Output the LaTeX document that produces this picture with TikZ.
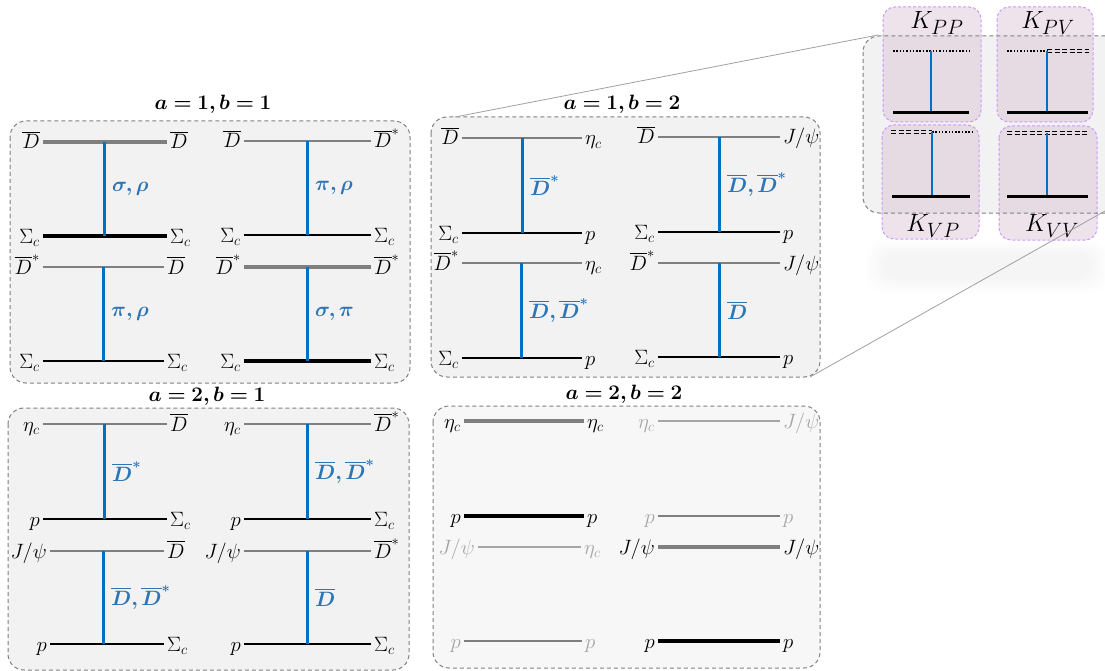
\documentclass[tikz,border=0pt]{standalone}
\usepackage{amsmath,bm}
\usetikzlibrary{calc}
\definecolor{boxfill}{HTML}{F2F2F2}
\definecolor{boxfillL}{HTML}{F7F7F7}
\definecolor{boxdraw}{HTML}{808080}
\definecolor{lineblue}{HTML}{0070C0}
\definecolor{labblue}{HTML}{2E75B6}
\definecolor{midgray}{HTML}{7F7F7F}
\definecolor{ltgray}{HTML}{A6A6A6}
\definecolor{purpdraw}{HTML}{CC99FF}
\definecolor{purpfill}{RGB}{216,185,206}
\definecolor{zoomgray}{HTML}{A0A0A0}
\newcommand\DDb{\overline{D}}
\newcommand\DDs{\overline{D}^{*}}
\tikzset{
 panel/.style={draw=boxdraw, fill=boxfill, dash pattern=on 4pt off 3pt, rounded corners=16pt, line width=1pt},
 thingray/.style={draw=midgray, line width=1.3pt},
 thickgray/.style={draw=midgray, line width=3.5pt},
 thinblack/.style={draw=black, line width=1.3pt},
 thickblack/.style={draw=black, line width=4pt},
 ltline/.style={draw=ltgray, line width=1.3pt},
 xch/.style={draw=lineblue, line width=3pt},
 lab/.style={font=\huge, inner sep=0pt},
 ll/.style={lab, text depth=0pt, anchor=base east, xshift=-3pt, yshift=-7pt},
 rl/.style={lab, text depth=0pt, anchor=base west, xshift=3pt, yshift=-7pt},
 xlab/.style={lab, anchor=west, xshift=8pt, text=labblue},
 ttl/.style={lab},
 lt/.style={text=ltgray},
 kbox/.style={draw=purpdraw, dash pattern=on 3pt off 2pt, fill=purpfill, fill opacity=0.4, rounded corners=12pt, line width=1pt},
 klab/.style={font=\Huge, inner sep=0pt},
 dotl/.style={draw=black, line width=1.5pt, dash pattern=on 1.5pt off 1.8pt},
 dbl/.style={draw=black, line width=0.9pt, dash pattern=on 5pt off 2.5pt},
 kbase/.style={draw=black, line width=3pt},
 zoomline/.style={draw=zoomgray, line width=0.8pt},
}
% #1 id, #2 xL, #3 xR, #4 yT, #5 yB, #6 xV, #7 top style, #8 bottom style, #9 exchange label
\newcommand\dg[9]{%
 \coordinate (#1tl) at (#2,#4); \coordinate (#1tr) at (#3,#4);
 \coordinate (#1bl) at (#2,#5); \coordinate (#1br) at (#3,#5);
 \coordinate (#1vt) at (#6,#4); \coordinate (#1vb) at (#6,#5);
 \draw[#7] (#1tl) -- (#1tr);
 \draw[#8] (#1bl) -- (#1br);
 \draw[xch] (#1vt) -- (#1vb);
 \node[xlab] (#1x) at ($(#1vt)!0.5!(#1vb)$) {$\bm{#9}$};
}
\newcommand\lb[5]{%
 \node[ll] (#1A) at (#1tl) {$#2$};
 \node[rl] (#1B) at (#1tr) {$#3$};
 \node[ll] (#1C) at (#1bl) {$#4$};
 \node[rl] (#1D) at (#1br) {$#5$};
}
\newcommand\dbline[2]{%
 \draw[dbl] ($(#1)+(0,-1.6)$) -- ($(#2)+(0,-1.6)$);
 \draw[dbl] ($(#1)+(0,1.6)$) -- ($(#2)+(0,1.6)$);
}
\begin{document}
\begin{tikzpicture}[x=1pt,y=-1pt]
\useasboundingbox (0,0) rectangle (1105,671);
\clip (0,0) rectangle (1105,671);

% ---------- panels ----------
\draw[panel] (10,121) rectangle (410,383);
\draw[panel] (431,117) rectangle (820,377);
\draw[panel] (8,408) rectangle (409,670);
\draw[panel, fill=boxfillL] (433,406) rectangle (820,668);

\node[ttl] (t11) at (213,104) {$\bm{a=1,b=1}$};
\node[ttl] (t12) at (622,104) {$\bm{a=1,b=2}$};
\node[ttl] (t21) at (207,396) {$\bm{a=2,b=1}$};
\node[ttl] (t22) at (624,394) {$\bm{a=2,b=2}$};

% ---------- a=1, b=1 ----------
\dg{Aa}{43}{167}{142}{236}{104}{thickgray}{thickblack}{\sigma,\rho}
\lb{Aa}{\DDb}{\DDb}{\Sigma_c}{\Sigma_c}
\dg{Ab}{244}{371}{141}{235}{307}{thingray}{thinblack}{\pi,\rho}
\lb{Ab}{\DDb}{\DDs}{\Sigma_c}{\Sigma_c}
\dg{Ac}{43}{164}{267}{361}{103}{thingray}{thinblack}{\pi,\rho}
\lb{Ac}{\DDs}{\DDb}{\Sigma_c}{\Sigma_c}
\dg{Ad}{244}{371}{267}{361}{307}{thickgray}{thickblack}{\sigma,\pi}
\lb{Ad}{\DDs}{\DDs}{\Sigma_c}{\Sigma_c}

% ---------- a=1, b=2 ----------
\dg{Ba}{462}{582}{138}{233}{522}{thingray}{thinblack}{\DDs}
\lb{Ba}{\DDb}{\eta_c}{\Sigma_c}{p}
\dg{Bb}{658}{780}{137}{232}{719}{thingray}{thinblack}{\DDb,\DDs}
\lb{Bb}{\DDb}{J/\psi}{\Sigma_c}{p}
\dg{Bc}{462}{582}{263}{358}{521}{thingray}{thinblack}{\DDb,\DDs}
\lb{Bc}{\DDs}{\eta_c}{\Sigma_c}{p}
\dg{Bd}{658}{780}{263}{357}{719}{thingray}{thinblack}{\DDb}
\lb{Bd}{\DDs}{J/\psi}{\Sigma_c}{p}

% ---------- a=2, b=1 ----------
\dg{Ca}{43}{167}{424}{519}{104}{thingray}{thinblack}{\DDs}
\lb{Ca}{\eta_c}{\DDb}{p}{\Sigma_c}
\dg{Cb}{244}{371}{424}{519}{307}{thingray}{thinblack}{\DDb,\DDs}
\lb{Cb}{\eta_c}{\DDs}{p}{\Sigma_c}
\dg{Cc}{50}{164}{551}{644}{103}{thingray}{thinblack}{\DDb,\DDs}
\lb{Cc}{J/\psi}{\DDb}{p}{\Sigma_c}
\dg{Cd}{244}{371}{551}{644}{307}{thingray}{thinblack}{\DDb}
\lb{Cd}{J/\psi}{\DDs}{p}{\Sigma_c}

% ---------- a=2, b=2 ----------
\coordinate (Da1) at (464,421); \coordinate (Da2) at (584,421);
\draw[thickgray] (Da1) -- (Da2);
\node[ll] (DaL) at (Da1) {$\eta_c$}; \node[rl] (DaR) at (Da2) {$\eta_c$};
\coordinate (Db1) at (658,421); \coordinate (Db2) at (780,421);
\draw[ltline] (Db1) -- (Db2);
\node[ll,lt] (DbL) at (Db1) {$\eta_c$}; \node[rl,lt] (DbR) at (Db2) {$J/\psi$};
\coordinate (Dc1) at (464,516); \coordinate (Dc2) at (584,516);
\draw[thickblack] (Dc1) -- (Dc2);
\node[ll] (DcL) at (Dc1) {$p$}; \node[rl] (DcR) at (Dc2) {$p$};
\coordinate (Dd1) at (658,516); \coordinate (Dd2) at (780,516);
\draw[thingray] (Dd1) -- (Dd2);
\node[ll,lt] (DdL) at (Dd1) {$p$}; \node[rl,lt] (DdR) at (Dd2) {$p$};
\coordinate (De1) at (478,547); \coordinate (De2) at (581,547);
\draw[ltline] (De1) -- (De2);
\node[ll,lt] (DeL) at (De1) {$J/\psi$}; \node[rl,lt] (DeR) at (De2) {$\eta_c$};
\coordinate (Df1) at (658,547); \coordinate (Df2) at (780,547);
\draw[thickgray] (Df1) -- (Df2);
\node[ll] (DfL) at (Df1) {$J/\psi$}; \node[rl] (DfR) at (Df2) {$J/\psi$};
\coordinate (Dg1) at (464,641); \coordinate (Dg2) at (582,641);
\draw[thingray] (Dg1) -- (Dg2);
\node[ll,lt] (DgL) at (Dg1) {$p$}; \node[rl,lt] (DgR) at (Dg2) {$p$};
\coordinate (Dh1) at (658,641); \coordinate (Dh2) at (780,641);
\draw[thickblack] (Dh1) -- (Dh2);
\node[ll] (DhL) at (Dh1) {$p$}; \node[rl] (DhR) at (Dh2) {$p$};

% ---------- inset ----------
\foreach \i in {0,...,9}{
 \fill[black, opacity=0.005, rounded corners=15pt] (866+2*\i,240+1.5*\i) rectangle (1108-2*\i,292-1.5*\i);
}
\fill[boxfill, rounded corners=16pt] (863,36) rectangle (1130,213);
\draw[kbox] (883,7) rectangle (981,122);
\draw[kbox] (997,7) rectangle (1093,122);
\draw[kbox] (882,125) rectangle (979,239);
\draw[kbox] (999,126) rectangle (1097,240);
\draw[panel, fill=none] (863,36) rectangle (1130,213);
\node[klab] (Kpp) at (937,23) {$K_{PP}$};
\node[klab] (Kpv) at (1048,23) {$K_{PV}$};
\node[klab] (Kvp) at (933,226) {$K_{VP}$};
\node[klab] (Kvv) at (1052,226) {$K_{VV}$};
% PP
\coordinate (pp1) at (893,51); \coordinate (pp2) at (969,51); \coordinate (ppv) at (931,51);
\coordinate (pp3) at (893,113); \coordinate (pp4) at (969,113); \coordinate (ppw) at (931,113);
\draw[dotl] (pp1) -- (pp2);
\draw[xch, line width=2.5pt] (ppv) -- (ppw);
\draw[kbase] (pp3) -- (pp4);
% PV
\coordinate (pv1) at (1007,51); \coordinate (pvv) at (1047,51); \coordinate (pv2) at (1089,51);
\coordinate (pv3) at (1007,113); \coordinate (pvw) at (1047,113); \coordinate (pv4) at (1088,113);
\draw[dotl] (pv1) -- (pvv);
\dbline{pvv}{pv2}
\draw[xch, line width=2.5pt] (pvv) -- (pvw);
\draw[kbase] (pv3) -- (pv4);
% VP
\coordinate (vp1) at (891,132); \coordinate (vpv) at (932,132); \coordinate (vp2) at (974,132);
\coordinate (vp3) at (892,197); \coordinate (vpw) at (932,197); \coordinate (vp4) at (970,197);
\dbline{vp1}{vpv}
\draw[dotl] (vpv) -- (vp2);
\draw[xch, line width=2.5pt] (vpv) -- (vpw);
\draw[kbase] (vp3) -- (vp4);
% VV
\coordinate (vv1) at (1007,133); \coordinate (vvv) at (1047,133); \coordinate (vv2) at (1088,133);
\coordinate (vv3) at (1007,197); \coordinate (vvw) at (1047,197); \coordinate (vv4) at (1088,197);
\dbline{vv1}{vv2}
\draw[xch, line width=2.5pt] (vvv) -- (vvw);
\draw[kbase] (vv3) -- (vv4);

% ---------- zoom lines ----------
\coordinate (zA) at (455,117); \coordinate (zB) at (878,35);
\coordinate (zC) at (810,377); \coordinate (zD) at (1105,211);
\draw[zoomline] (zA) -- (zB);
\draw[zoomline] (zC) -- (zD);
\end{tikzpicture}
\end{document}
